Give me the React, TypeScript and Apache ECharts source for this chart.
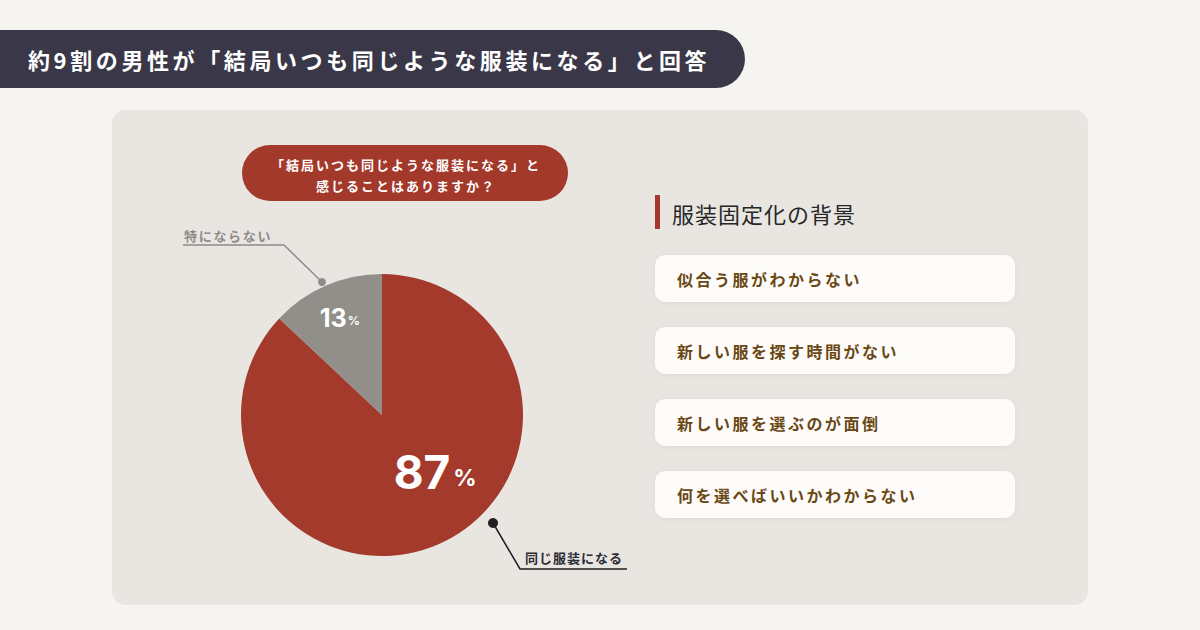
import React, { useEffect, useRef } from "react";
import * as echarts from "echarts";

const mainTitle = "約9割の男性が「結局いつも同じような服装になる」と回答";
const questionLines = ["「結局いつも同じような服装になる」と", "感じることはありますか？"];
const categories = ["同じ服装になる", "特にならない"];
const values = [87, 13];
const sliceColors = ["#a33a2b", "#928f8b"];
const sideTitle = "服装固定化の背景";
const reasons = [
  "似合う服がわからない",
  "新しい服を探す時間がない",
  "新しい服を選ぶのが面倒",
  "何を選べばいいかわからない",
];

const FONT = "'Noto Sans CJK JP', 'Noto Sans', sans-serif";

// letter-spaced text via rich tokens
function spaced(
  text: string,
  x: number,
  y: number,
  size: number,
  weight: string,
  color: string,
  gap: number,
  align: string = "left",
  z: number = 3
) {
  const str = Array.from(text)
    .map((ch) => `{a|${ch}}`)
    .join("");
  return {
    type: "text",
    x,
    y,
    z,
    style: {
      text: str,
      align,
      verticalAlign: "middle",
      textAlign: align,
      textVerticalAlign: "middle",
      rich: {
        a: {
          fontFamily: FONT,
          fontSize: size,
          fontWeight: weight,
          fill: color,
          color,
          padding: [0, gap, 0, 0],
        },
      },
    },
  };
}

export default function App() {
  const ref = useRef<HTMLDivElement>(null);
  useEffect(() => {
    if (!ref.current) return;
    const chart = echarts.init(ref.current, undefined, { renderer: "svg" });

    const graphics: any[] = [
      // title banner
      {
        type: "rect",
        shape: { x: -40, y: 30, width: 785, height: 58, r: 29 },
        style: { fill: "#3a3848" },
        z: 1,
      },
      spaced(mainTitle, 28, 59, 22, "bold", "#ffffff", 3.6, "left", 2),
      // main panel
      {
        type: "rect",
        shape: { x: 112, y: 110, width: 976, height: 495, r: 14 },
        style: { fill: "#e9e6e2" },
        z: -10,
      },
      // question pill
      {
        type: "rect",
        shape: { x: 242, y: 145, width: 326, height: 56, r: 28 },
        style: { fill: "#a3392b" },
        z: 1,
      },
      spaced(questionLines[0], 406, 164, 13, "bold", "#ffffff", 2, "center", 2),
      spaced(questionLines[1], 406, 185, 13, "bold", "#ffffff", 2, "center", 2),
      // callout for gray slice
      {
        type: "polyline",
        shape: { points: [[183, 245], [284, 245], [322, 282]] },
        style: { stroke: "#8e8b88", lineWidth: 1.5, fill: "none" },
        z: 3,
      },
      { type: "circle", shape: { cx: 322, cy: 282, r: 4 }, style: { fill: "#8e8b88" }, z: 4 },
      spaced(categories[1], 184, 235, 13, "bold", "#8e8b88", 1.7),
      // callout for red slice
      {
        type: "polyline",
        shape: { points: [[493, 523], [520, 569], [627, 569]] },
        style: { stroke: "#1e1e1e", lineWidth: 1.5, fill: "none" },
        z: 3,
      },
      { type: "circle", shape: { cx: 493, cy: 523, r: 5 }, style: { fill: "#1e1e1e" }, z: 4 },
      spaced(categories[0], 525, 557, 13, "bold", "#2b2b33", 1),
      // side title
      {
        type: "rect",
        shape: { x: 655, y: 195, width: 5, height: 34 },
        style: { fill: "#a3392b" },
      },
      spaced(sideTitle, 672, 213, 22, "normal", "#262626", 1),
    ];

    reasons.forEach((r, i) => {
      const top = 255 + i * 72;
      graphics.push({
        type: "rect",
        shape: { x: 655, y: top, width: 360, height: 47, r: 10 },
        style: {
          fill: "#fdfcfb",
          shadowBlur: 4,
          shadowColor: "rgba(0,0,0,0.05)",
          shadowOffsetY: 1,
        },
      });
      graphics.push(spaced(r, 677, top + 24, 16, "bold", "#6a4813", 2.5));
    });

    const labelOffsets = [
      [24, -10],
      [-13, -30],
    ];
    const labelSizes = [
      [46, 23],
      [25, 12],
    ];

    chart.setOption({
      animation: false,
      backgroundColor: "#f6f4f0",
      graphic: { elements: graphics },
      series: [
        {
          type: "pie",
          center: [382, 415],
          radius: [0, 141],
          startAngle: 90,
          clockwise: true,
          silent: true,
          z: 2,
          label: { show: false },
          labelLine: { show: false },
          data: categories.map((c, i) => ({
            name: c,
            value: values[i],
            itemStyle: { color: sliceColors[i] },
            label: {
              show: true,
              position: "inside",
              offset: labelOffsets[i],
              formatter: (p: any) => `{n|${p.value}}{p|%}`,
              rich: {
                n: {
                  fontFamily: "Inter, 'Noto Sans', sans-serif",
                  fontWeight: "bold",
                  fontSize: labelSizes[i][0],
                  color: "#ffffff",
                },
                p: {
                  fontFamily: "Inter, 'Noto Sans', sans-serif",
                  fontWeight: "bold",
                  fontSize: labelSizes[i][1],
                  color: "#ffffff",
                  padding: [labelSizes[i][0] * 0.25, 0, 0, i === 0 ? 3 : 1],
                },
              },
            },
          })),
        },
      ],
    });
    return () => chart.dispose();
  }, []);

  return (
    <div
      ref={ref}
      style={{ position: "fixed", left: 0, top: 0, width: 1200, height: 630 }}
    />
  );
}
